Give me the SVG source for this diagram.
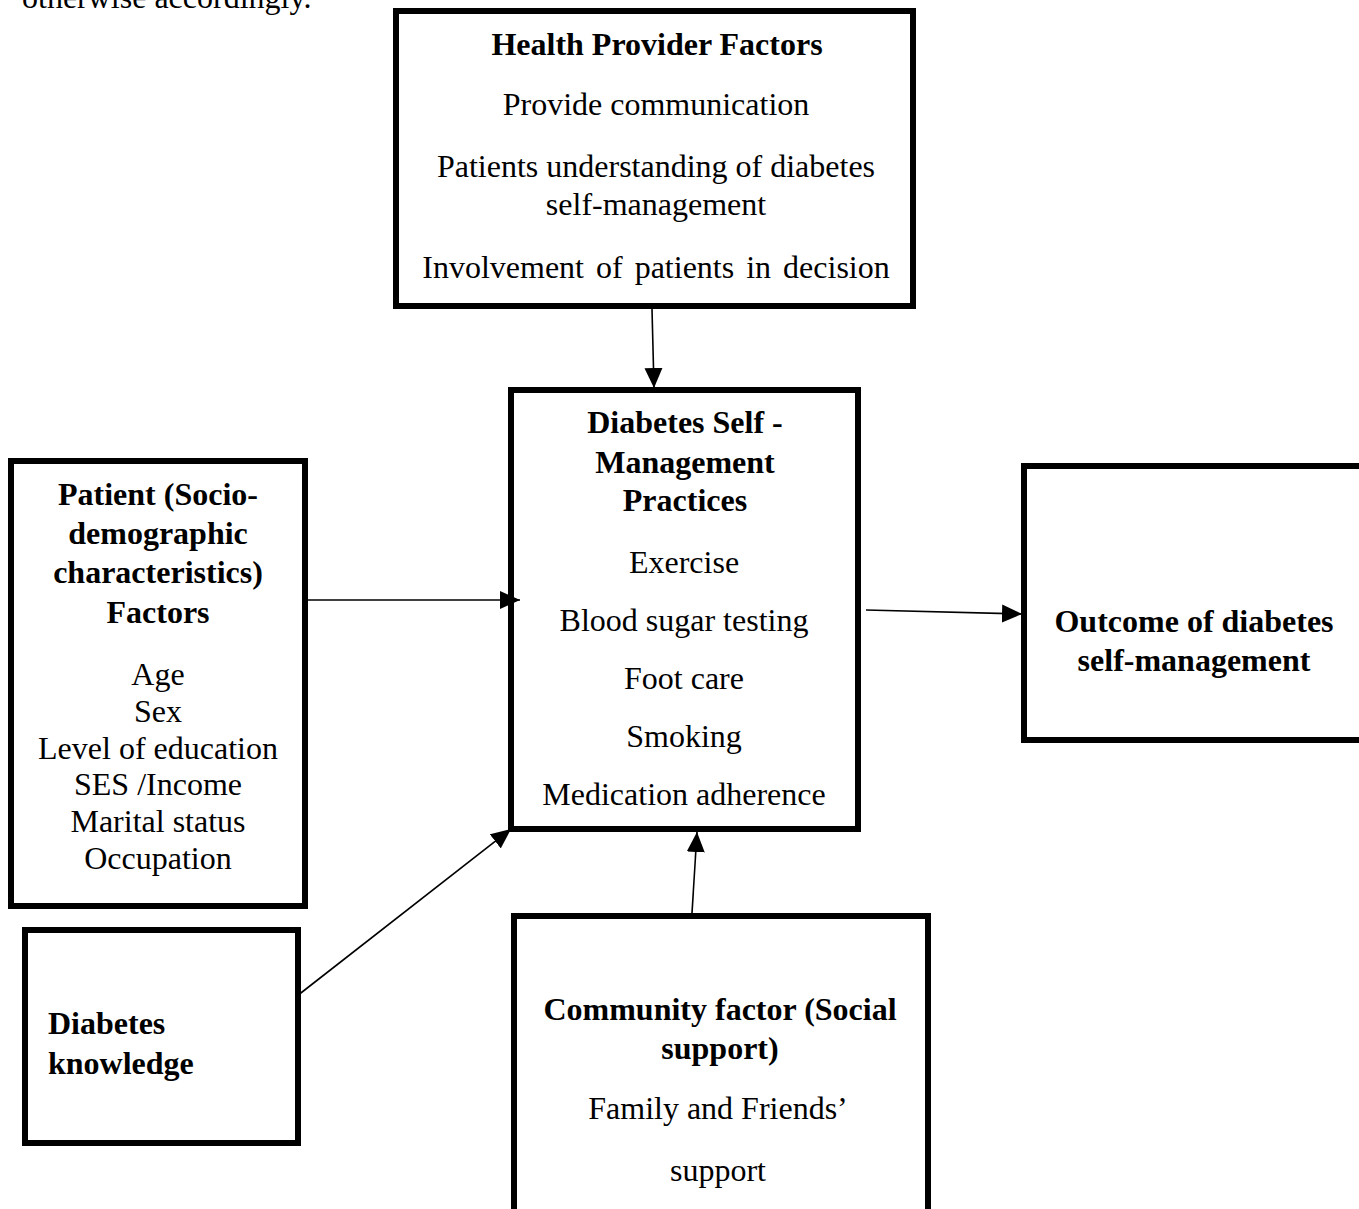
<svg xmlns="http://www.w3.org/2000/svg" width="1359" height="1209" viewBox="0 0 1359 1209">
<style>
.box{fill:#fff;stroke:#000;stroke-width:6}
text{font-family:"Liberation Serif","Times New Roman",serif;font-size:32px;fill:#000}
.b{font-weight:bold}
.c{text-anchor:middle}
.ln{stroke:#000;stroke-width:1.6;fill:none}
</style>
<defs>
<marker id="ah" markerUnits="userSpaceOnUse" markerWidth="22" markerHeight="18" refX="20" refY="9" orient="auto">
<path d="M0,0 L20,9 L0,18 Z" fill="#000"/>
</marker>
</defs>
<rect width="1359" height="1209" fill="#fff"/>
<text x="22" y="8">otherwise accordingly.</text>

<g id="health-provider">
<rect class="box" x="396" y="11" width="517" height="295"/>
<text class="b c" x="657" y="55">Health Provider Factors</text>
<text class="c" x="656" y="115">Provide communication</text>
<text class="c" x="656" y="177">Patients understanding of diabetes</text>
<text class="c" x="656" y="215">self-management</text>
<text class="c" x="656" y="278" word-spacing="4">Involvement of patients in decision</text>
</g>

<g id="dsm-practices">
<rect class="box" x="511" y="390" width="347" height="439"/>
<text class="b c" x="685" y="433">Diabetes Self -</text>
<text class="b c" x="685" y="473">Management</text>
<text class="b c" x="685" y="511">Practices</text>
<text class="c" x="684" y="573">Exercise</text>
<text class="c" x="684" y="631">Blood sugar testing</text>
<text class="c" x="684" y="689">Foot care</text>
<text class="c" x="684" y="747">Smoking</text>
<text class="c" x="684" y="805">Medication adherence</text>
</g>

<g id="patient">
<rect class="box" x="11" y="461" width="294" height="445"/>
<text class="b c" x="158" y="505">Patient (Socio-</text>
<text class="b c" x="158" y="544">demographic</text>
<text class="b c" x="158" y="583">characteristics)</text>
<text class="b c" x="158" y="623">Factors</text>
<text class="c" x="158" y="685">Age</text>
<text class="c" x="158" y="722">Sex</text>
<text class="c" x="158" y="759">Level of education</text>
<text class="c" x="158" y="795">SES /Income</text>
<text class="c" x="158" y="832">Marital status</text>
<text class="c" x="158" y="869">Occupation</text>
</g>

<g id="knowledge">
<rect class="box" x="25" y="930" width="273" height="213"/>
<text class="b" x="48" y="1034">Diabetes</text>
<text class="b" x="48" y="1074">knowledge</text>
</g>

<g id="community">
<rect class="box" x="514" y="916" width="414" height="330"/>
<text class="b c" x="720" y="1020">Community factor (Social</text>
<text class="b c" x="720" y="1059">support)</text>
<text class="c" x="718" y="1119">Family and Friends’</text>
<text class="c" x="718" y="1181">support</text>
</g>

<g id="outcome">
<rect class="box" x="1024" y="466" width="345" height="274"/>
<text class="b c" x="1194" y="632">Outcome of diabetes</text>
<text class="b c" x="1194" y="671">self-management</text>
</g>

<g id="connectors">
<line class="ln" x1="652" y1="309" x2="654" y2="388" marker-end="url(#ah)"/>
<line class="ln" x1="308" y1="600" x2="520" y2="600" marker-end="url(#ah)"/>
<line class="ln" x1="297" y1="996" x2="511" y2="829" marker-end="url(#ah)"/>
<line class="ln" x1="692" y1="913" x2="697" y2="832" marker-end="url(#ah)"/>
<line class="ln" x1="866" y1="610" x2="1022" y2="614" marker-end="url(#ah)"/>
</g>
</svg>
